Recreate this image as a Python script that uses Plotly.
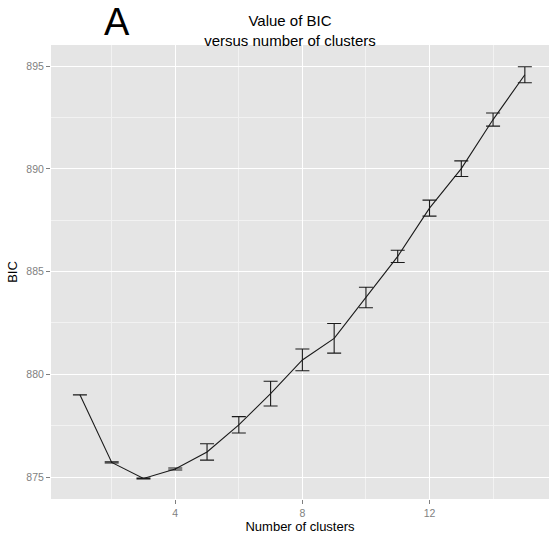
import plotly.graph_objects as go

# Mean BIC per number of clusters, with the spread used for the error bars
clusters = list(range(1, 16))
bic = [879.00, 875.71, 874.93, 875.39, 876.22, 877.54, 879.06, 880.70,
       881.75, 883.74, 885.74, 888.09, 890.01, 892.40, 894.58]
bic_err = [0.00, 0.03, 0.02, 0.05, 0.40, 0.40, 0.60, 0.53,
           0.72, 0.50, 0.30, 0.39, 0.38, 0.32, 0.39]

x_ticks = [4, 8, 12]
y_ticks = [875, 880, 885, 890, 895]

FONT = "Liberation Sans, Arial, sans-serif"
GREY_TXT = "#7F7F7F"

fig = go.Figure()
fig.add_trace(go.Scatter(
    x=clusters, y=bic, mode="lines",
    line=dict(color="#1a1a1a", width=1.1),
    error_y=dict(type="data", array=bic_err, visible=True,
                 color="#1a1a1a", thickness=1.1, width=7),
    showlegend=False, hoverinfo="x+y",
))

axis_common = dict(
    showline=False, zeroline=False,
    gridcolor="#FFFFFF", gridwidth=1.2,
    ticks="outside", ticklen=4, tickwidth=1, tickcolor=GREY_TXT,
    tickfont=dict(family=FONT, size=10.5, color=GREY_TXT),
)

fig.update_layout(
    width=549, height=535,
    margin=dict(l=51, r=0, t=45, b=36),
    paper_bgcolor="white", plot_bgcolor="#E5E5E5",
    font=dict(family=FONT, color="black"),
    title=dict(
        text="Value of BIC<br>versus number of clusters",
        font=dict(family=FONT, size=15, color="black"),
        x=290 / 549, xanchor="center", xref="container",
        y=1 - 26 / 535, yanchor="top", yref="container",
    ),
    xaxis=dict(
        axis_common,
        range=[0.09, 15.76],
        tickvals=x_ticks, ticktext=[str(v) for v in x_ticks],
        minor=dict(tick0=2, dtick=4, showgrid=True,
                   gridcolor="#F2F2F2", gridwidth=0.6, ticks=""),
        title=dict(text="Number of clusters",
                   font=dict(family=FONT, size=13, color="black"),
                   standoff=3),
    ),
    yaxis=dict(
        axis_common,
        range=[873.93, 896.03],
        tickvals=y_ticks, ticktext=[str(v) for v in y_ticks],
        minor=dict(tick0=877.5, dtick=5, showgrid=True,
                   gridcolor="#F2F2F2", gridwidth=0.6, ticks=""),
        title=dict(text="BIC",
                   font=dict(family=FONT, size=13, color="black"),
                   standoff=5),
    ),
    annotations=[dict(
        text="A", xref="paper", yref="paper",
        x=(116.7 - 51) / 498, y=1 + (45 - 22) / 454,
        xanchor="center", yanchor="middle", showarrow=False,
        font=dict(family=FONT, size=38, color="black"),
    )],
)

fig.write_html("out.html")
